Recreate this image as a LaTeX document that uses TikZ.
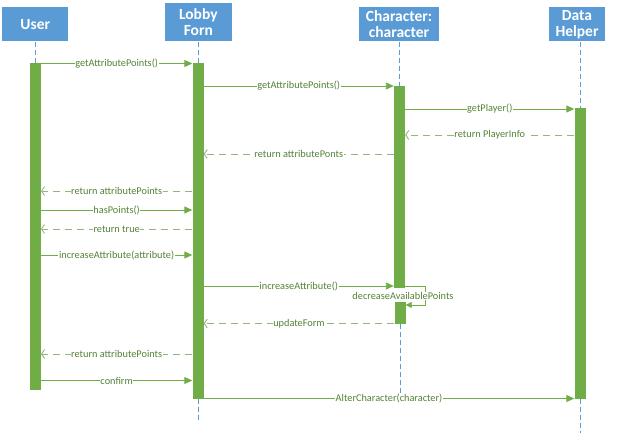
\documentclass[tikz,border=0pt]{standalone}
\usepackage{fontspec}
\setmainfont{Carlito}
\usetikzlibrary{arrows.meta}
\definecolor{hdrblue}{HTML}{5B9BD5}
\definecolor{grn}{HTML}{70AD47}
\definecolor{txtgrn}{HTML}{548235}
\definecolor{retgrn}{HTML}{95B580}
\begin{document}
\begin{tikzpicture}[x=1pt,y=-1pt,
 hdr/.style={fill=hdrblue, text=white, font=\bfseries\fontsize{15.5}{16}\selectfont, align=center, inner sep=0, minimum height=34pt},
 life/.style={hdrblue, line width=0.6pt, dash pattern=on 5pt off 3pt},
 bar/.style={fill=grn, draw=none, inner sep=0, anchor=north, minimum width=11pt},
 msg/.style={grn, line width=0.9pt, -{Triangle[length=8pt,width=7pt]}},
 ret/.style={retgrn, line width=0.9pt, dash pattern=on 7pt off 5pt, -{Straight Barb[length=3pt,width=9pt]}},
 lbl/.style={fill=white, text=txtgrn, font=\fontsize{10.3}{11}\selectfont, inner sep=0.6pt}]
\useasboundingbox (0,0) rectangle (617,438);
% headers
\node[hdr, minimum width=66pt] (uh) at (35.3,24.5) {User};
\node[hdr, minimum width=67pt, minimum height=38pt] (lh) at (198.3,22.5) {Lobby\\Forn};
\node[hdr, minimum width=80pt] (ch) at (399,24.5) {Character:\\character};
\node[hdr, minimum width=56pt] (dh) at (577,24.5) {Data\\Helper};
% activation bars
\node[bar, minimum height=327pt] (ub) at (35.3,63) {};
\node[bar, minimum height=336pt] (lb) at (198,63) {};
\node[bar, minimum height=202pt] (cb) at (399.5,86) {};
\node[bar, minimum height=22pt] (cb2) at (400,302) {};
\node[bar, minimum height=291pt] (db) at (580,108) {};
% lifelines
\coordinate (lend) at (198,420);
\coordinate (cend) at (400,395);
\coordinate (dend) at (580,433);
\draw[life] (ub.north |- uh.south) -- (ub.north);
\draw[life] (lb.north |- lh.south) -- (lb.north);
\draw[life] (lb.south) -- (lend);
\draw[life] (cb.north |- ch.south) -- (cb.north);
\draw[life] (cb2.south) -- (cend);
\draw[life] (db.north |- dh.south) -- (db.north);
\draw[life] (db.south) -- (dend);
% messages
\draw[msg] (ub.east |- 0,63.5) -- node[lbl]{getAttributePoints()} (lb.west |- 0,63.5);
\draw[msg] (lb.east |- 0,86) -- node[lbl]{getAttributePoints()} (cb.west |- 0,86);
\draw[msg] (cb.east |- 0,109) -- node[lbl]{getPlayer()} (db.west |- 0,109);
\draw[ret] (db.west |- 0,135) -- node[lbl]{return PlayerInfo} (cb.east |- 0,135);
\draw[ret] (cb.west |- 0,154) -- node[lbl]{return attributePonts} (lb.east |- 0,154);
\draw[ret] (lb.west |- 0,191) -- node[lbl]{return attributePoints} (ub.east |- 0,191);
\draw[msg] (ub.east |- 0,210) -- node[lbl]{hasPoints()} (lb.west |- 0,210);
\draw[ret] (lb.west |- 0,229) -- node[lbl]{return true} (ub.east |- 0,229);
\draw[msg] (ub.east |- 0,255) -- node[lbl]{increaseAttribute(attribute)} (lb.west |- 0,255);
\draw[msg] (lb.east |- 0,286) -- node[lbl]{increaseAttribute()} (cb.west |- 0,286);
\coordinate (sr1) at (425,286);
\coordinate (sr2) at (425,305);
\draw[grn, line width=0.9pt, -{Triangle[length=6pt,width=6pt]}] (cb.east |- sr1) -- (sr1) -- (sr2) -- (cb2.east |- sr2);
\node[lbl] (selflbl) at (403,296) {decreaseAvailablePoints};
\draw[ret] (cb2.west |- 0,323.5) -- node[lbl]{updateForm} (lb.east |- 0,323.5);
\draw[ret] (lb.west |- 0,354) -- node[lbl]{return attributePoints} (ub.east |- 0,354);
\draw[msg] (ub.east |- 0,380.5) -- node[lbl]{confirm} (lb.west |- 0,380.5);
\draw[msg] (lb.east |- 0,398.5) -- node[lbl]{AlterCharacter(character)} (db.west |- 0,398.5);
\end{tikzpicture}
\end{document}
